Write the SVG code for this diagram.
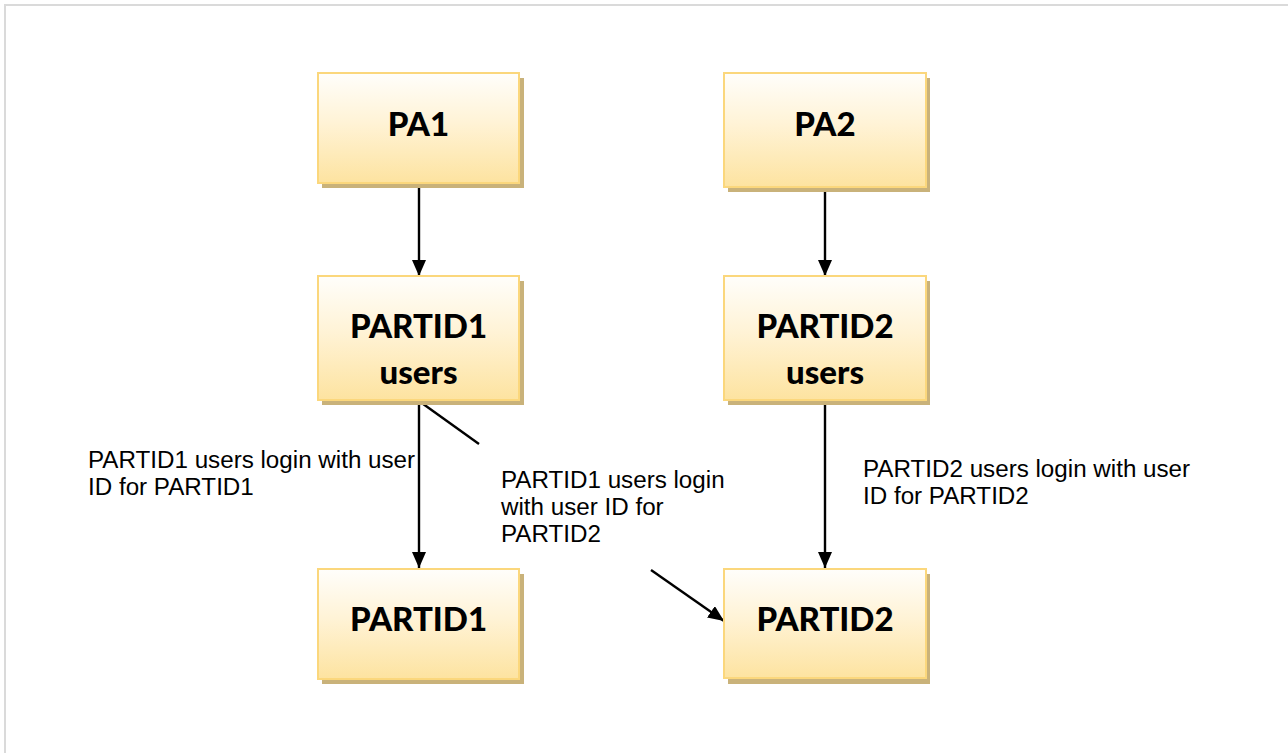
<svg xmlns="http://www.w3.org/2000/svg" width="1288" height="753" viewBox="0 0 1288 753">
  <defs>
    <linearGradient id="boxFill" x1="0" y1="0" x2="0" y2="1">
      <stop offset="0" stop-color="#fffefb"/>
      <stop offset="0.45" stop-color="#fff3d6"/>
      <stop offset="1" stop-color="#fde3a0"/>
    </linearGradient>
    <marker id="arrow" viewBox="0 0 16 14" refX="16" refY="7" markerWidth="16" markerHeight="14" markerUnits="userSpaceOnUse" orient="auto">
      <path d="M0,0 L16,7 L0,14 Z" fill="#000"/>
    </marker>
    <style>
      .shadow { fill: #c9b27a; }
      .box { fill: url(#boxFill); stroke: #fbd77c; stroke-width: 2; }
      .title { font-family: Lato, "Open Sans", sans-serif; font-weight: 900; font-size: 33px; fill: #000; text-anchor: middle; }
      .label { font-family: "Liberation Sans", Arial, sans-serif; font-size: 24.2px; fill: #000; }
      .conn { stroke: #000; stroke-width: 2.4; fill: none; }
    </style>
  </defs>

  <!-- page frame -->
  <rect x="5" y="5" width="1300" height="800" fill="#fff" stroke="#dadada" stroke-width="2"/>

  <!-- connectors -->
  <g id="connectors">
    <line class="conn" x1="419" y1="183" x2="419" y2="276" marker-end="url(#arrow)"/>
    <line class="conn" x1="825" y1="187" x2="825" y2="276" marker-end="url(#arrow)"/>
    <line class="conn" x1="419" y1="401" x2="419" y2="568" marker-end="url(#arrow)"/>
    <line class="conn" x1="825" y1="401" x2="825" y2="568" marker-end="url(#arrow)"/>
    <line class="conn" x1="419" y1="401" x2="479" y2="444"/>
    <line class="conn" x1="651" y1="570" x2="724" y2="621" marker-end="url(#arrow)"/>
  </g>

  <!-- nodes -->
  <g id="pa1">
    <rect class="shadow" x="322" y="78" width="202" height="110"/>
    <rect class="box" x="318" y="73" width="201" height="110"/>
    <text class="title" x="418.5" y="136">PA1</text>
  </g>
  <g id="pa2">
    <rect class="shadow" x="728" y="78" width="202" height="114"/>
    <rect class="box" x="724" y="73" width="202" height="114"/>
    <text class="title" x="825" y="136">PA2</text>
  </g>
  <g id="partid1-users">
    <rect class="shadow" x="322" y="281" width="202" height="124"/>
    <rect class="box" x="318" y="276" width="201" height="124"/>
    <text class="title" x="418.5" y="338">PARTID1</text>
    <text class="title" x="418.5" y="384">users</text>
  </g>
  <g id="partid2-users">
    <rect class="shadow" x="728" y="281" width="202" height="124"/>
    <rect class="box" x="724" y="276" width="202" height="124"/>
    <text class="title" x="825" y="338">PARTID2</text>
    <text class="title" x="825" y="384">users</text>
  </g>
  <g id="partid1">
    <rect class="shadow" x="322" y="574" width="202" height="110"/>
    <rect class="box" x="318" y="569" width="201" height="110"/>
    <text class="title" x="418.5" y="631">PARTID1</text>
  </g>
  <g id="partid2">
    <rect class="shadow" x="728" y="574" width="202" height="110"/>
    <rect class="box" x="724" y="569" width="202" height="109"/>
    <text class="title" x="825" y="631">PARTID2</text>
  </g>

  <!-- edge labels -->
  <g id="labels">
    <text class="label" x="88" y="468">PARTID1 users login with user</text>
    <text class="label" x="88" y="495">ID for PARTID1</text>
    <text class="label" x="501" y="488">PARTID1 users login</text>
    <text class="label" x="501" y="515">with user ID for</text>
    <text class="label" x="501" y="542">PARTID2</text>
    <text class="label" x="863" y="477">PARTID2 users login with user</text>
    <text class="label" x="863" y="504">ID for PARTID2</text>
  </g>
</svg>
